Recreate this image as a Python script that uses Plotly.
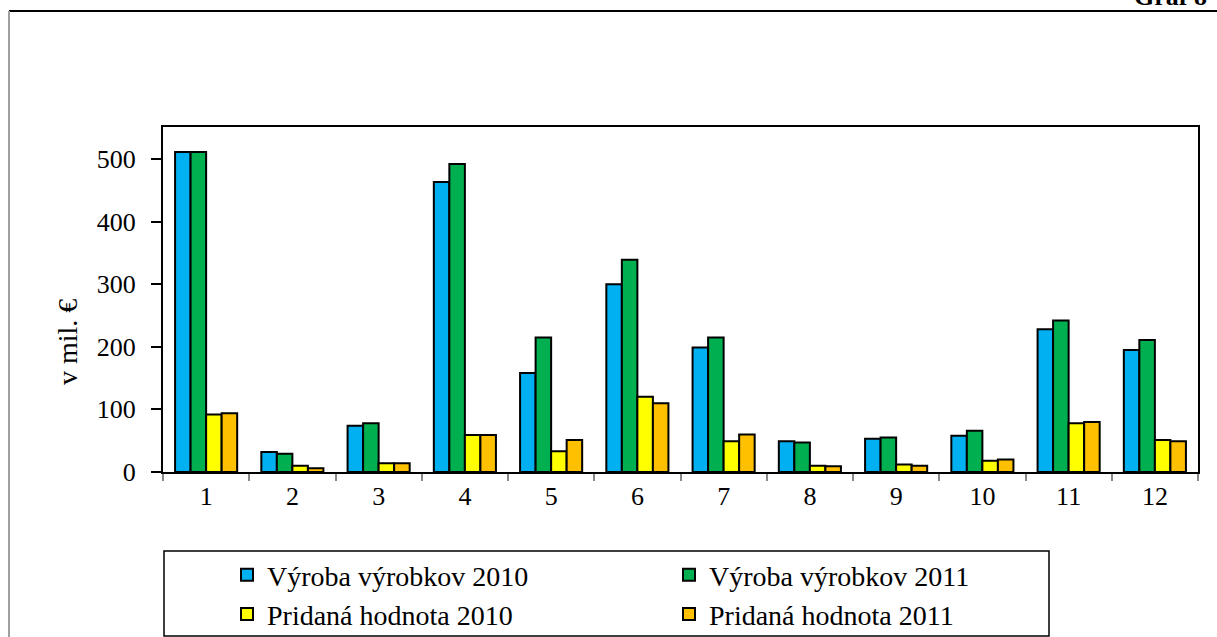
import plotly.graph_objects as go

categories = ["1", "2", "3", "4", "5", "6", "7", "8", "9", "10", "11", "12"]
vyroba_2010 = [511, 32, 74, 463, 158, 300, 199, 49, 53, 58, 228, 195]
vyroba_2011 = [511, 29, 78, 492, 215, 339, 215, 47, 55, 66, 242, 211]
pridana_2010 = [92, 10, 14, 59, 33, 120, 49, 10, 12, 18, 78, 51]
pridana_2011 = [94, 6, 14, 59, 51, 110, 60, 9, 10, 20, 80, 49]

series_names = ["Výroba výrobkov 2010", "Výroba výrobkov 2011",
                "Pridaná hodnota 2010", "Pridaná hodnota 2011"]
series_values = [vyroba_2010, vyroba_2011, pridana_2010, pridana_2011]
series_colors = ["#00B0F0", "#00B050", "#FFFF00", "#FFC000"]

FONT = "Liberation Serif, Times New Roman, serif"
W, H = 1217, 637
L, R, T, B = 163, 1198, 127, 472

fig = go.Figure()
for name, vals, col in zip(series_names, series_values, series_colors):
    fig.add_trace(go.Bar(
        x=categories, y=vals, name=name,
        marker=dict(color=col, line=dict(color="black", width=2)),
    ))

def px_x(p):
    return (p - L) / (R - L)

def px_y(p):
    return (B - p) / (B - T)

fig.update_layout(
    width=W, height=H,
    margin=dict(l=L, r=W - R, t=T, b=H - B, pad=0),
    paper_bgcolor="white", plot_bgcolor="white",
    barmode="group", bargap=0.28, bargroupgap=0,
    font=dict(family=FONT, size=26, color="black"),
    showlegend=True,
    legend=dict(
        orientation="h", xref="container", yref="container",
        x=227 / W, y=1 - 550 / H, xanchor="left", yanchor="top",
        entrywidth=397, entrywidthmode="pixels",
        bgcolor="rgba(0,0,0,0)", borderwidth=0,
        font=dict(family=FONT, size=28, color="black"),
        traceorder="normal",
    ),
    xaxis=dict(
        type="category", tickson="boundaries", ticks="outside",
        ticklen=7, tickcolor="#888888", tickwidth=2,
        showline=True, linecolor="black", linewidth=2, mirror=True,
        showgrid=False, tickfont=dict(size=26, family=FONT),
    ),
    yaxis=dict(
        range=[0, 551], tickvals=[0, 100, 200, 300, 400, 500],
        ticks="outside", ticklen=10, tickcolor="black", tickwidth=2,
        ticklabelstandoff=10,
        showline=True, linecolor="black", linewidth=2, mirror=True,
        showgrid=False, zeroline=False,
        tickfont=dict(size=26, family=FONT),
    ),
    shapes=[
        # outer frame
        dict(type="line", xref="paper", yref="paper",
             x0=px_x(9), x1=px_x(1225), y0=px_y(11), y1=px_y(11),
             line=dict(color="black", width=2)),
        dict(type="line", xref="paper", yref="paper",
             x0=px_x(9), x1=px_x(9), y0=px_y(11), y1=px_y(645),
             line=dict(color="#A0A0A0", width=2)),
        # legend box
        dict(type="rect", xref="paper", yref="paper",
             x0=px_x(164), x1=px_x(1049), y0=px_y(636), y1=px_y(551),
             line=dict(color="black", width=1.5)),
    ],
    annotations=[
        dict(text="<b>Graf 8</b>", xref="paper", yref="paper",
             x=px_x(1132), y=px_y(13), xanchor="left", yanchor="bottom",
             showarrow=False, font=dict(family=FONT, size=26, color="black")),
        dict(text="v mil. €", xref="paper", yref="paper",
             x=px_x(67), y=px_y(342), xanchor="center", yanchor="middle",
             textangle=-90, showarrow=False,
             font=dict(family=FONT, size=28, color="black")),
    ],
)

fig.write_html("out.html", config={"displayModeBar": False},
               post_script="document.body.style.margin='0';")
